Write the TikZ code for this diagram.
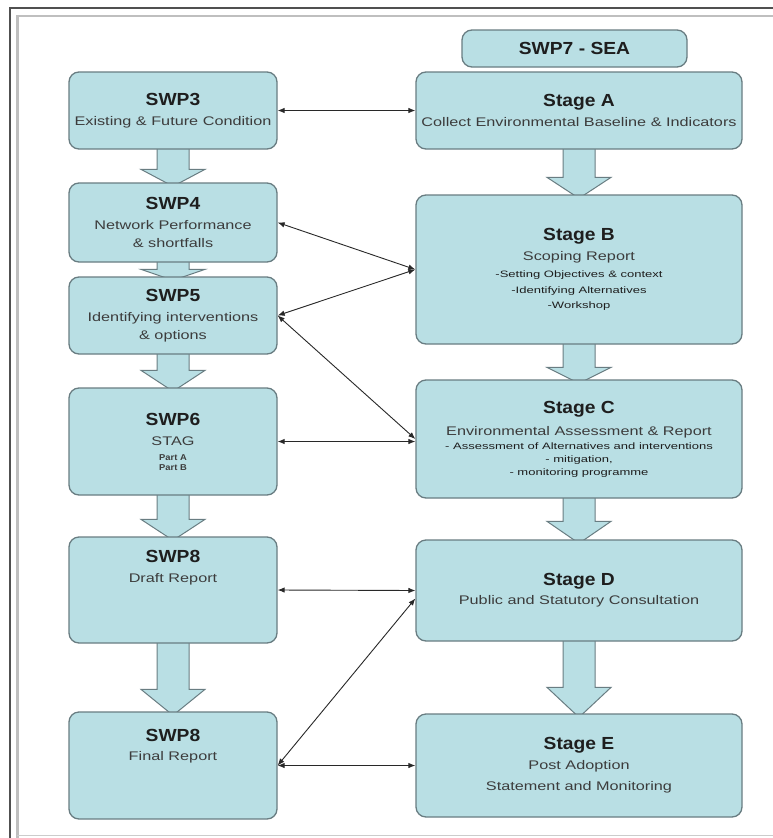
\documentclass[tikz,border=0pt]{standalone}
\usepackage{fontspec}
\setmainfont{Liberation Sans}
\newfontfamily\ttlfont[FakeStretch=1.1]{Liberation Sans}
\newfontfamily\subfont[FakeStretch=1.3]{Liberation Sans}
\newfontfamily\smlfont[FakeStretch=1.4]{Liberation Sans}
\usetikzlibrary{arrows.meta,calc,backgrounds}
\definecolor{boxfill}{RGB}{185,223,228}
\definecolor{boxline}{RGB}{105,125,130}
\definecolor{ttlc}{RGB}{30,30,30}
\definecolor{subc}{RGB}{60,60,60}
\definecolor{conc}{RGB}{40,40,40}
\newcommand\mytitle{\ttlfont\bfseries\fontsize{17.5}{20}\selectfont\color{ttlc}}
\newcommand\mysub{\subfont\fontsize{12.5}{17}\selectfont\color{subc}}
\newcommand\mysmall{\smlfont\fontsize{9.3}{12}\selectfont\color{ttlc}}
\newcommand\mytiny{\ttlfont\bfseries\fontsize{8.5}{9}\selectfont\color{subc}}
\newcommand\blockarr[3]{%
  \draw[blk] let \p1=(#1.south), \p2=(#2.north) in
  (\x1-16pt,\y1+4pt) -- (\x1-16pt,\y2+#3pt) -- (\x1-32pt,\y2+#3pt) --
  (\x1,\y2-4pt) -- (\x1+32pt,\y2+#3pt) -- (\x1+16pt,\y2+#3pt) --
  (\x1+16pt,\y1+4pt) -- cycle;}
\tikzset{
  box/.style={draw=boxline, fill=boxfill, line width=1.3pt, rounded corners=10pt,
    inner sep=0pt, align=center, font=\mysub},
  lbox/.style={box, minimum width=208pt},
  rbox/.style={box, minimum width=326pt},
  blk/.style={draw=boxline, fill=boxfill, line width=1pt},
  conn/.style={draw=conc, line width=0.9pt,
    {Latex[length=7pt,width=5.5pt]}-{Latex[length=7pt,width=5.5pt]}},
  txt/.style={inner sep=0pt, align=center, font=\mysub}
}
\begin{document}
\begin{tikzpicture}[x=1pt,y=-1pt]
\useasboundingbox (0,0) rectangle (772,838);

% right column
\node[box, minimum width=225pt, minimum height=37pt] (sea) at (574.5,48.5) {\mytitle SWP7 - SEA};
\node[rbox, minimum height=77pt] (stA) at (579,110.5)
  {{\mytitle Stage A}\\[3pt] Collect Environmental Baseline \& Indicators};
\node[rbox, minimum height=149pt] (stB) at (579,269.5)
  {{\mytitle Stage B}\\[3pt] Scoping Report\\[0pt]
   {\mysmall -Setting Objectives \& context}\\[-1.5pt]
   {\mysmall -Identifying Alternatives}\\[-2pt]
   {\mysmall -Workshop}};
\node[rbox, minimum height=118pt] (stC) at (579,439)
  {{\mytitle Stage C}\\[5pt] Environmental Assessment \& Report\\[-3pt]
   {\mysmall - Assessment of Alternatives and interventions}\\[-3.5pt]
   {\mysmall - mitigation,}\\[-4.5pt]
   {\mysmall - monitoring programme}};
\node[rbox, minimum height=101pt] (stD) at (579,590.5)
  {{\mytitle Stage D}\\[2pt] Public and Statutory Consultation};
\node[rbox, minimum height=103pt] (stE) at (579,765.5)
  {{\mytitle Stage E}\\[3pt] Post Adoption\\[4pt] Statement and Monitoring};

% left column
\node[lbox, minimum height=77pt] (swp3) at (173,110.5)
  {{\mytitle SWP3}\\[3pt] Existing \& Future Condition};
\node[lbox, minimum height=79pt] (swp4) at (173,222.5)
  {{\mytitle SWP4}\\[3pt] Network Performance\\[1pt] \& shortfalls};
\node[lbox, minimum height=77pt] (swp5) at (173,315.5)
  {{\mytitle SWP5}\\[3pt] Identifying interventions\\[1pt] \& options};
\node[lbox, minimum height=107pt] (swp6) at (173,441.5)
  {{\mytitle SWP6}\\[3pt] STAG\\[-2pt] {\mytiny Part A}\\[-7pt] {\mytiny Part B}};
\node[lbox, minimum height=106pt] (draft) at (173,590) {};
\node[txt, anchor=north] (drafttxt) at ($(draft.north)+(0,14)$)
  {{\mytitle SWP8}\\[3pt] Draft Report};
\node[lbox, minimum height=107pt] (final) at (173,765.5) {};
\node[txt, anchor=north] (finaltxt) at ($(final.north)+(0,18)$)
  {{\mytitle SWP8}\\[2pt] Final Report};

% background, frame and block arrows behind the boxes
\begin{scope}[on background layer]
\fill[white] (0,0) rectangle (772,838);
\draw[line width=2pt, draw={rgb,255:red,80;green,80;blue,80}] (10,845) -- (10,8) -- (780,8);
\draw[line width=2.5pt, draw=gray!50] (17.5,845) -- (17.5,16) -- (780,16);
\draw[line width=1.2pt, draw=gray!40] (17,835.5) -- (780,835.5);
\blockarr{swp3}{swp4}{13}
\blockarr{swp4}{swp5}{7}
\blockarr{swp5}{swp6}{17}
\blockarr{swp6}{draft}{17}
\blockarr{draft}{final}{22}
\blockarr{stA}{stB}{17}
\blockarr{stB}{stC}{12}
\blockarr{stC}{stD}{18}
\blockarr{stD}{stE}{26}
\end{scope}

% connectors
\draw[conn] (swp3.east) -- (stA.west);
\draw[conn] (swp4.east) -- (stB.west);
\draw[conn] (swp5.east) -- (stB.west);
\draw[conn] (swp5.east) -- (stC.west);
\draw[conn] (swp6.east) -- (stC.west |- swp6.east);
\draw[conn] (draft.east) -- (stD.west);
\draw[conn] (final.east) -- ($(stD.west)+(0,8)$);
\draw[conn] (final.east) -- (stE.west);
\end{tikzpicture}
\end{document}
